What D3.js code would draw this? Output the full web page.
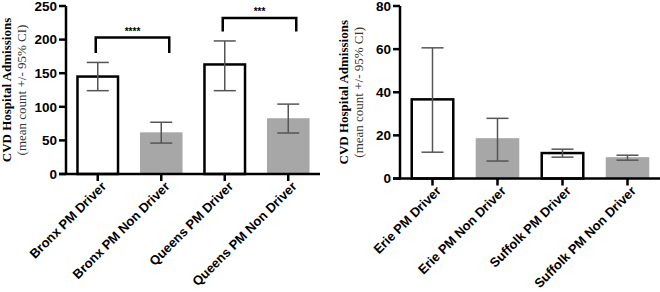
<!DOCTYPE html>
<html lang="en">
<head>
  <meta charset="UTF-8">
  <script src="https://cdn.jsdelivr.net/npm/d3@7"></script>
  <title>CVD Hospital Admissions</title>
  <style>
    body { margin: 0; background: #fff; }
  </style>
</head>
<body>
  <svg width="660" height="292"></svg>
<script>
  // left panel data
  const leftCats = ["Bronx PM Driver", "Bronx PM Non Driver", "Queens PM Driver", "Queens PM Non Driver"];
  const leftMean = [145, 62, 163, 83];
  const leftLow = [124, 46, 124, 61];
  const leftHigh = [166, 77, 198, 104];
  const leftTicks = [0, 50, 100, 150, 200, 250];
  // significance brackets: [from, to, top, leg end, label]
  const leftSig = [
    [0, 1, 203, 180, "****"],
    [2, 3, 232, 212, "***"]
  ];

  // right panel data
  const rightCats = ["Erie PM Driver", "Erie PM Non Driver", "Suffolk PM Driver", "Suffolk PM Non Driver"];
  const rightMean = [36.7, 18.7, 11.8, 9.9];
  const rightLow = [12.2, 8.1, 9.9, 8.5];
  const rightHigh = [60.6, 27.9, 13.6, 10.8];
  const rightTicks = [0, 20, 40, 60, 80];

  const svg = d3.select("svg");

  function panel(opt) {
    const g = svg.append("g");
    const y = d3.scaleLinear().domain(opt.yDomain).range([opt.y0, opt.y1]);
    const x = d3.scaleBand().domain(opt.cats).range([opt.ax, opt.x1])
      .paddingInner(0.33).paddingOuter(0.165);

    // y axis
    g.append("line")
      .attr("x1", opt.ax).attr("x2", opt.ax)
      .attr("y1", y(opt.yDomain[1])).attr("y2", opt.y0 + 1)
      .attr("stroke", "#000").attr("stroke-width", 2.5);
    g.selectAll(".ytick").data(opt.ticks).join("line")
      .attr("x1", opt.ax - 7).attr("x2", opt.ax)
      .attr("y1", d => y(d)).attr("y2", d => y(d))
      .attr("stroke", "#000").attr("stroke-width", 2.5);
    g.selectAll(".ylab").data(opt.ticks).join("text")
      .attr("x", opt.ax - 9).attr("y", d => y(d))
      .attr("dy", "0.36em")
      .attr("text-anchor", "end")
      .style("font", "bold 13.5px 'Liberation Sans', Arial, sans-serif")
      .text(d => d);

    // y title
    const midY = (opt.y0 + y(opt.yDomain[1])) / 2;
    g.append("text")
      .attr("transform", "translate(" + opt.tx + "," + midY + ") rotate(-90)")
      .attr("text-anchor", "middle")
      .style("font", "bold 13px 'Liberation Serif', 'Times New Roman', serif")
      .text("CVD Hospital Admissions");
    g.append("text")
      .attr("transform", "translate(" + (opt.tx + 15) + "," + midY + ") rotate(-90)")
      .attr("text-anchor", "middle")
      .attr("fill", "#333")
      .style("font", "13px 'Liberation Serif', 'Times New Roman', serif")
      .text("(mean count +/- 95% CI)");

    // bars
    const bw = x.bandwidth();
    g.selectAll(".bar").data(opt.cats).join("rect")
      .attr("x", (d, i) => x(d) + (i % 2 ? 0 : 1))
      .attr("width", (d, i) => bw - (i % 2 ? 0 : 2))
      .attr("y", (d, i) => y(opt.mean[i]))
      .attr("height", (d, i) => opt.y0 - y(opt.mean[i]))
      .attr("fill", (d, i) => i % 2 ? "#a7a7a7" : "#fff")
      .attr("stroke", (d, i) => i % 2 ? "none" : "#000")
      .attr("stroke-width", 2.5);

    // error bars
    const eb = g.selectAll(".err").data(opt.cats).join("g")
      .attr("stroke", "#555").attr("stroke-width", 1.5);
    eb.append("line")
      .attr("x1", d => x(d) + bw / 2).attr("x2", d => x(d) + bw / 2)
      .attr("y1", (d, i) => y(opt.low[i])).attr("y2", (d, i) => y(opt.high[i]));
    eb.append("line")
      .attr("x1", d => x(d) + bw / 2 - 11).attr("x2", d => x(d) + bw / 2 + 11)
      .attr("y1", (d, i) => y(opt.low[i])).attr("y2", (d, i) => y(opt.low[i]));
    eb.append("line")
      .attr("x1", d => x(d) + bw / 2 - 11).attr("x2", d => x(d) + bw / 2 + 11)
      .attr("y1", (d, i) => y(opt.high[i])).attr("y2", (d, i) => y(opt.high[i]));

    // x axis
    g.append("line")
      .attr("x1", opt.ax - 7).attr("x2", opt.x1)
      .attr("y1", opt.y0).attr("y2", opt.y0)
      .attr("stroke", "#000").attr("stroke-width", 2.5);
    g.selectAll(".xtick").data(opt.cats).join("line")
      .attr("x1", d => x(d) + bw / 2).attr("x2", d => x(d) + bw / 2)
      .attr("y1", opt.y0).attr("y2", opt.y0 + 7)
      .attr("stroke", "#000").attr("stroke-width", 2.5);
    g.selectAll(".xlab").data(opt.cats).join("text")
      .attr("transform", d => "translate(" + (x(d) + bw / 2 + 6) + "," + (opt.y0 + 10) + ") rotate(-45)")
      .attr("text-anchor", "end")
      .attr("dy", "0.35em")
      .style("font", "bold 13px 'Liberation Sans', Arial, sans-serif")
      .text(d => d);

    // brackets
    (opt.sig || []).forEach(s => {
      const xa = x(opt.cats[s[0]]) + bw / 2 - 2;
      const xb = x(opt.cats[s[1]]) + bw / 2 + 8;
      g.append("path")
        .attr("d", "M" + xa + "," + y(s[3]) + "V" + y(s[2]) + "H" + xb + "V" + y(s[3]))
        .attr("fill", "none").attr("stroke", "#000").attr("stroke-width", 2.5);
      g.append("text")
        .attr("x", (xa + xb) / 2).attr("y", y(s[2]) - 3)
        .attr("text-anchor", "middle")
        .style("font", "bold 10px 'Liberation Sans', Arial, sans-serif")
        .text(s[4]);
    });
  }

  panel({
    cats: leftCats, mean: leftMean, low: leftLow, high: leftHigh, ticks: leftTicks,
    yDomain: [0, 250], y0: 174, y1: 6, ax: 66, x1: 320, tx: 11, sig: leftSig
  });

  panel({
    cats: rightCats, mean: rightMean, low: rightLow, high: rightHigh, ticks: rightTicks,
    yDomain: [0, 80], y0: 178.5, y1: 6, ax: 400, x1: 660, tx: 348
  });
</script>
</body>
</html>
